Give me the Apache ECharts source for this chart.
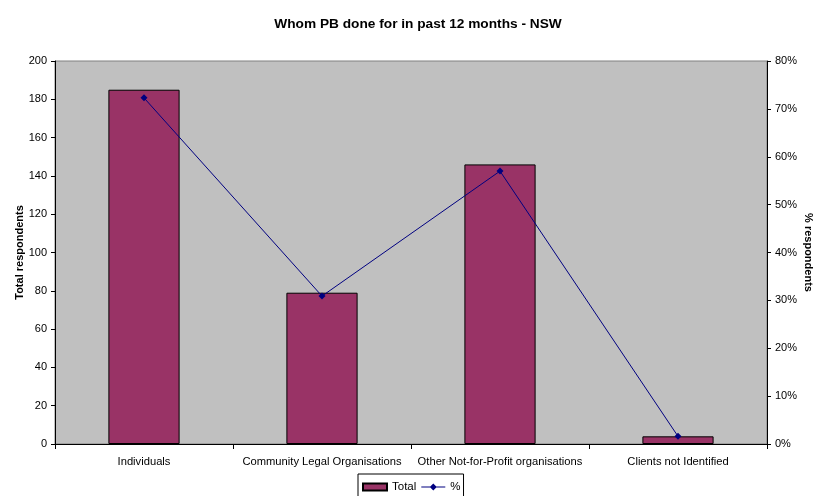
<!DOCTYPE html>
<html><head><meta charset="utf-8">
<script src="https://cdn.jsdelivr.net/npm/echarts@6/dist/echarts.min.js"></script>
<style>html,body{margin:0;padding:0;background:#fff}#c{width:816px;height:496px}</style>
</head><body><div id="c"></div>
<script>
const categories = ["Individuals","Community Legal Organisations","Other Not-for-Profit organisations","Clients not Identified"];
const totals = [185, 79, 146, 4];
const percents = [72.3, 30.9, 57.0, 1.6];
const leftTicks = {min:0, max:200, interval:20};
const rightTicks = {min:0, max:80, interval:10};

const chart = echarts.init(document.getElementById('c'), null, {renderer:'canvas'});
const F = 'Liberation Sans, Arial, sans-serif';
chart.setOption({
  animation:false,
  textStyle:{fontFamily:F},
  title:{text:'Whom PB done for in past 12 months - NSW', left:413, textAlign:'center', top:12,
    textStyle:{fontSize:13.7, fontWeight:'bold', color:'#000', fontFamily:F}},
  grid:{left:55, right:49, top:61, bottom:52, containLabel:false, outerBoundsMode:'none',
    show:true, backgroundColor:'#C0C0C0', borderColor:'#808080', borderWidth:1},
  legend:{top:474, left:358, itemWidth:24, itemHeight:7, itemGap:5,
    borderColor:'#000', borderWidth:1, padding:[7,3,8,4],
    textStyle:{fontSize:11.5, color:'#000', fontFamily:F},
    data:[{name:'Total', icon:'rect'},{name:'%', icon:'path://M0,9L9,9L12,6L15,9L24,9L24,10L15,10L12,13L9,10L0,10Z'}]},
  xAxis:{type:'category', data:categories,
    axisLine:{lineStyle:{color:'#000'}}, axisTick:{show:true, alignWithLabel:false, length:5, lineStyle:{color:'#000'}},
    axisLabel:{color:'#000', fontSize:11.2, margin:12, interval:0, fontFamily:F}},
  yAxis:[
    {type:'value', min:leftTicks.min, max:leftTicks.max, interval:leftTicks.interval,
     name:'Total respondents', nameLocation:'middle', nameGap:30, nameRotate:90, nameMoveOverlap:false,
     nameTextStyle:{fontSize:11, fontWeight:'bold', color:'#000', fontFamily:F},
     axisLine:{show:true, lineStyle:{color:'#000'}}, axisTick:{show:true, length:4, inside:false, lineStyle:{color:'#000'}},
     axisLabel:{color:'#000', fontSize:11, margin:8, fontFamily:F}, splitLine:{show:false}},
    {type:'value', min:rightTicks.min, max:rightTicks.max, interval:rightTicks.interval,
     name:'% respondents', nameLocation:'middle', nameGap:36, nameRotate:-90, nameMoveOverlap:false,
     nameTextStyle:{fontSize:11, fontWeight:'bold', color:'#000', fontFamily:F},
     axisLine:{show:true, lineStyle:{color:'#000'}}, axisTick:{show:true, length:4, lineStyle:{color:'#000'}},
     axisLabel:{color:'#000', fontSize:11, margin:8, formatter:'{value}%', fontFamily:F}, splitLine:{show:false}}
  ],
  series:[
    {name:'Total', type:'bar', data:totals, barWidth:'40%', yAxisIndex:0,
     itemStyle:{color:'#993366', borderColor:'#000', borderWidth:1}},
    {name:'%', type:'line', data:percents, yAxisIndex:1, symbol:'diamond', symbolSize:7,
     lineStyle:{color:'#000080', width:1}, itemStyle:{color:'#000080'}}
  ]
});
</script></body></html>
